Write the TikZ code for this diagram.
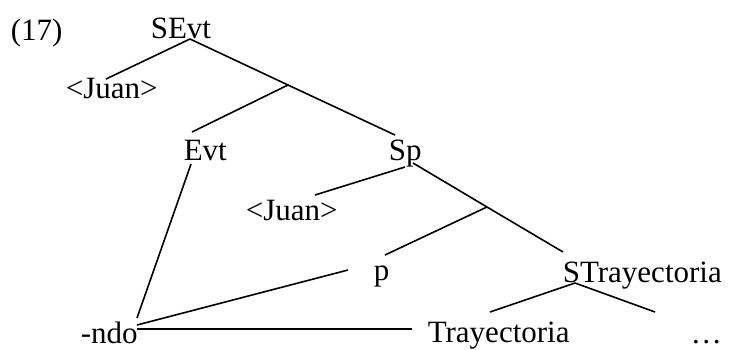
\documentclass[tikz,border=0pt]{standalone}
\usepackage{fontspec}
\setmainfont{Liberation Serif}
\usepackage{tikz}

\begin{document}
\begin{tikzpicture}[x=1pt,y=-1pt,line width=1.6pt,
  lbl/.style={anchor=base west,inner sep=0pt,font=\fontsize{31}{36}\selectfont}]
\useasboundingbox (0,0) rectangle (740,349);
\node[lbl] (ex) at (10,40) {(17)};
\node[lbl] (sevt) at (150,38) {SEvt};
\node[lbl] (juana) at (65,98) {<Juan>};
\node[lbl] (evt) at (183,160) {Evt};
\node[lbl] (sp) at (388,160) {Sp};
\node[lbl] (juanb) at (245,220) {<Juan>};
\node[lbl] (p) at (373,280) {p};
\node[lbl] (stray) at (562,282) {STrayectoria};
\node[lbl] (ndo) at (80,343) {-ndo};
\node[lbl] (tray) at (427,342) {Trayectoria};
\node[lbl] (dots) at (690,343) {…};
\coordinate (b1) at (288,85);
\coordinate (b2) at (487,207);
% upper tree
\draw ([shift={(40,1)}]sevt.base west) -- ([shift={(41,-19)}]juana.base west);
\draw ([shift={(40,1)}]sevt.base west) -- (b1) -- ([shift={(7,-25)}]sp.base west);
\draw (b1) -- ([shift={(9,-28)}]evt.base west);
\draw ([shift={(8,4)}]evt.base west) -- ([shift={(57,-25)}]ndo.base west);
% Sp
\draw ([shift={(17,7)}]sp.base west) -- ([shift={(70,-25)}]juanb.base west);
\draw ([shift={(25,3)}]sp.base west) -- (b2) -- ([shift={(1,-30)}]stray.base west);
\draw (b2) -- ([shift={(12,-25)}]p.base west);
% -ndo
\draw ([shift={(57,-18)}]ndo.base west) -- ([shift={(-25,-10)}]p.base west);
\draw ([shift={(57,-14)}]ndo.base west) -- ([shift={(-15,-13)}]tray.base west);
% STrayectoria
\draw ([shift={(13,1)}]stray.base west) -- ([shift={(63,-30)}]tray.base west);
\draw ([shift={(13,1)}]stray.base west) -- ([shift={(-35,-31)}]dots.base west);
\end{tikzpicture}
\end{document}
